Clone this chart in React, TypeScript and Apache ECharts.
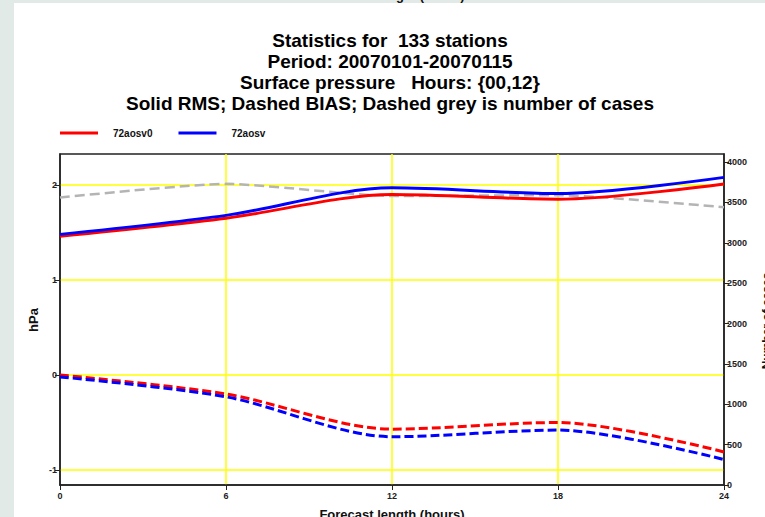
import React, { useEffect, useRef } from "react";
import * as echarts from "echarts";

const hours = [0, 6, 12, 18, 24];
const rms72aosv0 = [1.46, 1.65, 1.9, 1.85, 2.01];
const rms72aosv = [1.48, 1.68, 1.97, 1.91, 2.08];
const bias72aosv0 = [0.0, -0.2, -0.57, -0.5, -0.81];
const bias72aosv = [-0.02, -0.23, -0.65, -0.58, -0.89];
const numberOfCases = [3560, 3730, 3580, 3590, 3440];

const leftTicks = [-1, 0, 1, 2];
const rightTicks = [0, 500, 1000, 1500, 2000, 2500, 3000, 3500, 4000];
const xTicks = [0, 6, 12, 18, 24];

const titleLines = [
  "Statistics for  133 stations",
  "Period: 20070101-20070115",
  "Surface pressure   Hours: {00,12}",
  "Solid RMS; Dashed BIAS; Dashed grey is number of cases",
];
const seriesNames = ["72aosv0", "72aosv"];

const FONT = "'Liberation Sans', Arial, Helvetica, sans-serif";

export default function App() {
  const ref = useRef<HTMLDivElement>(null);

  useEffect(() => {
    document.body.style.margin = "0";
    if (!ref.current) return;
    const chart = echarts.init(ref.current, undefined, { renderer: "svg" });

    const pair = (xs: number[], ys: number[]) => xs.map((x, i) => [x, ys[i]]);

    const titleGraphics = titleLines.map((t, i) => ({
      type: "text",
      x: 390,
      y: 40 + i * 21,
      z: 10,
      style: {
        text: t,
        fontSize: 19,
        fontWeight: "bold",
        fontFamily: FONT,
        fill: "#000",
        align: "center",
        verticalAlign: "middle",
      },
    }));

    const option: any = {
      animation: false,
      backgroundColor: "#ffffff",
      grid: {
        left: 60,
        right: 41,
        top: 154,
        bottom: 32,
        show: true,
        borderColor: "#222",
        borderWidth: 1.5,
        backgroundColor: "transparent",
      },
      legend: {
        data: seriesNames,
        left: 55,
        top: 123,
        icon: "rect",
        itemWidth: 38,
        itemHeight: 3,
        itemGap: 26,
        textStyle: {
          fontSize: 10,
          fontWeight: "bold",
          fontFamily: FONT,
          color: "#111",
          padding: [0, 0, 0, 10],
        },
      },
      xAxis: {
        type: "value",
        min: 0,
        max: 24,
        interval: 6,
        axisLine: { show: true, onZero: false, lineStyle: { color: "#222", width: 1.5 } },
        axisTick: { show: true, inside: false, length: 5, lineStyle: { color: "#222" } },
        axisLabel: {
          fontSize: 9,
          fontWeight: "bold",
          fontFamily: FONT,
          color: "#222",
          margin: 6,
          customValues: xTicks,
        },
        splitLine: {
          show: true,
          showMinLine: false,
          showMaxLine: false,
          lineStyle: { color: "#ffff00", width: 1.5 },
        },
      },
      yAxis: [
        {
          type: "value",
          position: "left",
          min: -1.158,
          max: 2.326,
          axisLine: { show: true, onZero: false, lineStyle: { color: "#222", width: 1.5 } },
          axisTick: {
            show: true,
            inside: false,
            length: 5,
            customValues: leftTicks,
            lineStyle: { color: "#222" },
          },
          axisLabel: {
            fontSize: 9,
            fontWeight: "bold",
            fontFamily: FONT,
            color: "#222",
            margin: 3,
            customValues: leftTicks,
            formatter: (v: number) => String(v),
          },
          splitLine: { show: true, lineStyle: { color: "#ffff00", width: 1.5 } },
        },
        {
          type: "value",
          position: "right",
          min: 0,
          max: 4100,
          axisLine: { show: true, onZero: false, lineStyle: { color: "#222", width: 1.5 } },
          axisTick: {
            show: true,
            inside: false,
            length: 5,
            customValues: rightTicks,
            lineStyle: { color: "#222" },
          },
          axisLabel: {
            fontSize: 9,
            fontWeight: "bold",
            fontFamily: FONT,
            color: "#222",
            margin: 3,
            customValues: rightTicks,
            formatter: (v: number) => String(v),
          },
          splitLine: { show: false },
        },
      ],
      series: [
        {
          name: "cases",
          type: "line",
          yAxisIndex: 1,
          data: pair(hours, numberOfCases),
          showSymbol: false,
          smooth: 0.2,
          z: 3,
          lineStyle: { color: "#b4b4b4", width: 2.5, type: [10, 5] },
          itemStyle: { color: "#b4b4b4" },
        },
        {
          name: seriesNames[0],
          type: "line",
          data: pair(hours, rms72aosv0),
          showSymbol: false,
          smooth: 0.3,
          z: 4,
          lineStyle: { color: "#ff0000", width: 3 },
          itemStyle: { color: "#ff0000" },
        },
        {
          name: seriesNames[1],
          type: "line",
          data: pair(hours, rms72aosv),
          showSymbol: false,
          smooth: 0.3,
          z: 5,
          lineStyle: { color: "#0000ff", width: 3 },
          itemStyle: { color: "#0000ff" },
        },
        {
          name: seriesNames[0],
          type: "line",
          data: pair(hours, bias72aosv0),
          showSymbol: false,
          smooth: 0.3,
          z: 4,
          lineStyle: { color: "#ff0000", width: 3, type: [9, 4] },
          itemStyle: { color: "#ff0000" },
        },
        {
          name: seriesNames[1],
          type: "line",
          data: pair(hours, bias72aosv),
          showSymbol: false,
          smooth: 0.3,
          z: 5,
          lineStyle: { color: "#0000ff", width: 3, type: [9, 4] },
          itemStyle: { color: "#0000ff" },
        },
      ],
      graphic: [
        {
          type: "rect",
          z: 20,
          shape: { x: 0, y: 0, width: 14, height: 517 },
          style: { fill: "#e2eae7" },
        },
        {
          type: "rect",
          z: 20,
          shape: { x: 0, y: 0, width: 765, height: 3 },
          style: { fill: "#e2eae7" },
        },
        {
          type: "text",
          x: 392,
          y: -11,
          z: 21,
          style: {
            text: "Forecast length (hours)",
            fontSize: 13,
            fontWeight: "bold",
            fontFamily: FONT,
            fill: "#111",
            align: "center",
            verticalAlign: "top",
          },
        },
        ...titleGraphics,
        {
          type: "text",
          x: 392,
          y: 508,
          z: 10,
          style: {
            text: "Forecast length (hours)",
            fontSize: 13,
            fontWeight: "bold",
            fontFamily: FONT,
            fill: "#111",
            align: "center",
            verticalAlign: "top",
          },
        },
        {
          type: "text",
          x: 33,
          y: 320,
          z: 10,
          rotation: Math.PI / 2,
          style: {
            text: "hPa",
            fontSize: 13,
            fontWeight: "bold",
            fontFamily: FONT,
            fill: "#111",
            align: "center",
            verticalAlign: "middle",
          },
        },
        {
          type: "text",
          x: 767,
          y: 321,
          z: 10,
          rotation: Math.PI / 2,
          style: {
            text: "Number of cases",
            fontSize: 12,
            fontWeight: "bold",
            fontFamily: FONT,
            fill: "#111",
            align: "center",
            verticalAlign: "middle",
          },
        },
      ],
    };

    chart.setOption(option);
    return () => chart.dispose();
  }, []);

  return (
    <div
      ref={ref}
      style={{ position: "absolute", left: 0, top: 0, width: 765, height: 517 }}
    />
  );
}
